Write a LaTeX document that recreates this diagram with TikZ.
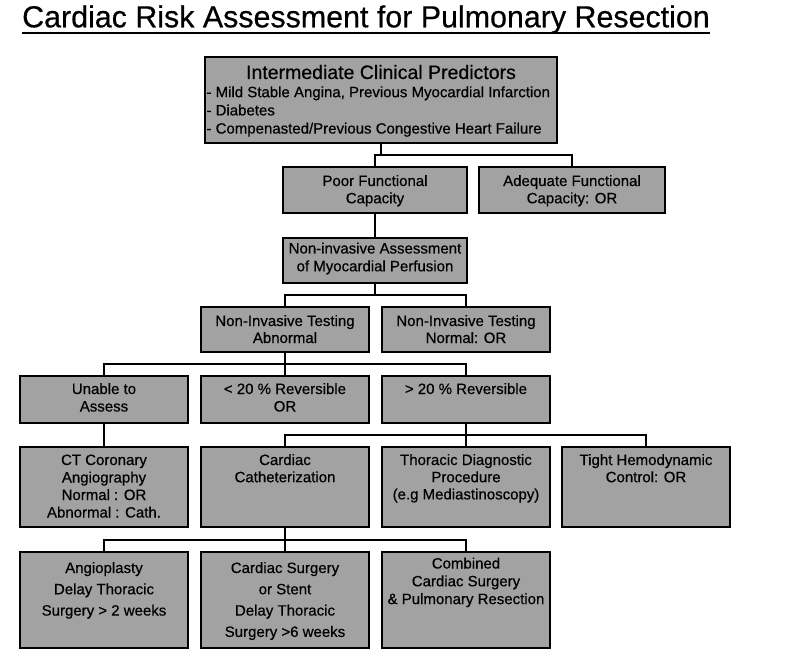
\documentclass[tikz,border=0pt]{standalone}
\usepackage{fontspec}
\setmainfont[FakeBold=0.5]{Liberation Sans}
\definecolor{boxgray}{RGB}{162,162,162}
\newcommand{\boxtext}[5]{\parbox[c][#2pt][t]{#1pt}{\centering\fontsize{15}{#4}\selectfont\rule{0pt}{#3pt}#5}}
\tikzset{
  box/.style={draw=black, line width=1.8pt, fill=boxgray, inner sep=0pt, outer sep=0pt, anchor=north west},
  conn/.style={line width=1.8pt, draw=black},
}
\begin{document}
\begin{tikzpicture}[x=1pt, y=-1pt]
\useasboundingbox (0,0) rectangle (788,658);
% title
\node[anchor=base west, inner sep=0pt, font=\fontsize{30.4}{36}\selectfont] (title) at (22,27.3) {Cardiac Risk Assessment for Pulmonary Resection};
\draw[line width=2pt] ([yshift=-5.5pt]title.base west) -- ([yshift=-5.5pt]title.base east);

% boxes
\node[box] (top) at (205,57) {\parbox[c][86pt][t]{352pt}{\centering\fontsize{19.5}{22}\selectfont\rule{0pt}{22pt}Intermediate Clinical Predictors\par
\raggedright\fontsize{15}{18.2}\selectfont\hspace*{1.5pt}- Mild Stable Angina, Previous Myocardial Infarction\\\hspace*{1.5pt}- Diabetes\\\hspace*{1.5pt}- Compenasted/Previous Congestive Heart Failure}};

\node[box] (poor) at (283,167) {\boxtext{184}{46}{19}{17.3}{Poor Functional\\Capacity}};
\node[box] (adq) at (479,167) {\boxtext{186}{46}{19}{17.3}{Adequate Functional\\Capacity: OR}};
\node[box] (nia) at (283,238) {\boxtext{184}{45}{15.5}{17.8}{Non-invasive Assessment\\of Myocardial Perfusion}};

\node[box] (abn) at (201,307) {\boxtext{168}{45}{19}{17}{Non-Invasive Testing\\Abnormal}};
\node[box] (nrm) at (382,307) {\boxtext{168}{45}{19}{17}{Non-Invasive Testing\\Normal: OR}};

\node[box] (un) at (20,376) {\boxtext{168}{47}{18}{17.5}{Unable to\\Assess}};
\node[box] (lt) at (201,376) {\boxtext{168}{47}{18}{17.5}{< 20 \% Reversible\\OR}};
\node[box] (gt) at (382,376) {\boxtext{168}{47}{18}{17.5}{> 20 \% Reversible}};

\node[box] (ct) at (20,447) {\boxtext{168}{80}{18}{17.5}{CT Coronary\\Angiography\\Normal : OR\\Abnormal : Cath.}};
\node[box] (cath) at (201,447) {\boxtext{168}{80}{18}{17.2}{Cardiac\\Catheterization}};
\node[box] (thor) at (382,447) {\boxtext{168}{80}{18}{17.2}{Thoracic Diagnostic\\Procedure\\(e.g Mediastinoscopy)}};
\node[box] (tight) at (562,447) {\boxtext{168}{80}{18}{17.2}{Tight Hemodynamic\\Control: OR}};

\node[box] (ang) at (20,552) {\boxtext{168}{96}{21}{21.3}{Angioplasty\\Delay Thoracic\\Surgery > 2 weeks}};
\node[box] (csurg) at (201,552) {\boxtext{168}{96}{21}{21.3}{Cardiac Surgery\\or Stent\\Delay Thoracic\\Surgery >6 weeks}};
\node[box] (comb) at (382,552) {\boxtext{168}{96}{16.5}{17.8}{Combined\\Cardiac Surgery\\\& Pulmonary Resection}};

% connectors
\coordinate (b1) at (381,155);
\draw[conn] (top.south) -- (b1);
\draw[conn] (poor.north) |- (b1) -| (adq.north);
\draw[conn] (poor.south) -- (nia.north);

\draw[conn] (nia.south) -- ++(0,12) coordinate (b2);
\draw[conn] (abn.north) |- (b2) -| (nrm.north);

\draw[conn] (abn.south) -- ++(0,12) coordinate (b3);
\draw[conn] (un.north) |- (b3) -| (gt.north);
\draw[conn] (b3) -- (lt.north);

\draw[conn] (un.south) -- (ct.north);

\draw[conn] (gt.south) -- ++(0,12) coordinate (b4);
\draw[conn] (cath.north) |- (b4) -| (tight.north);
\draw[conn] (b4) -- (thor.north);

\draw[conn] (cath.south) -- ++(0,13) coordinate (b5);
\draw[conn] (ang.north) |- (b5) -| (comb.north);
\draw[conn] (b5) -- (csurg.north);
\end{tikzpicture}
\end{document}
